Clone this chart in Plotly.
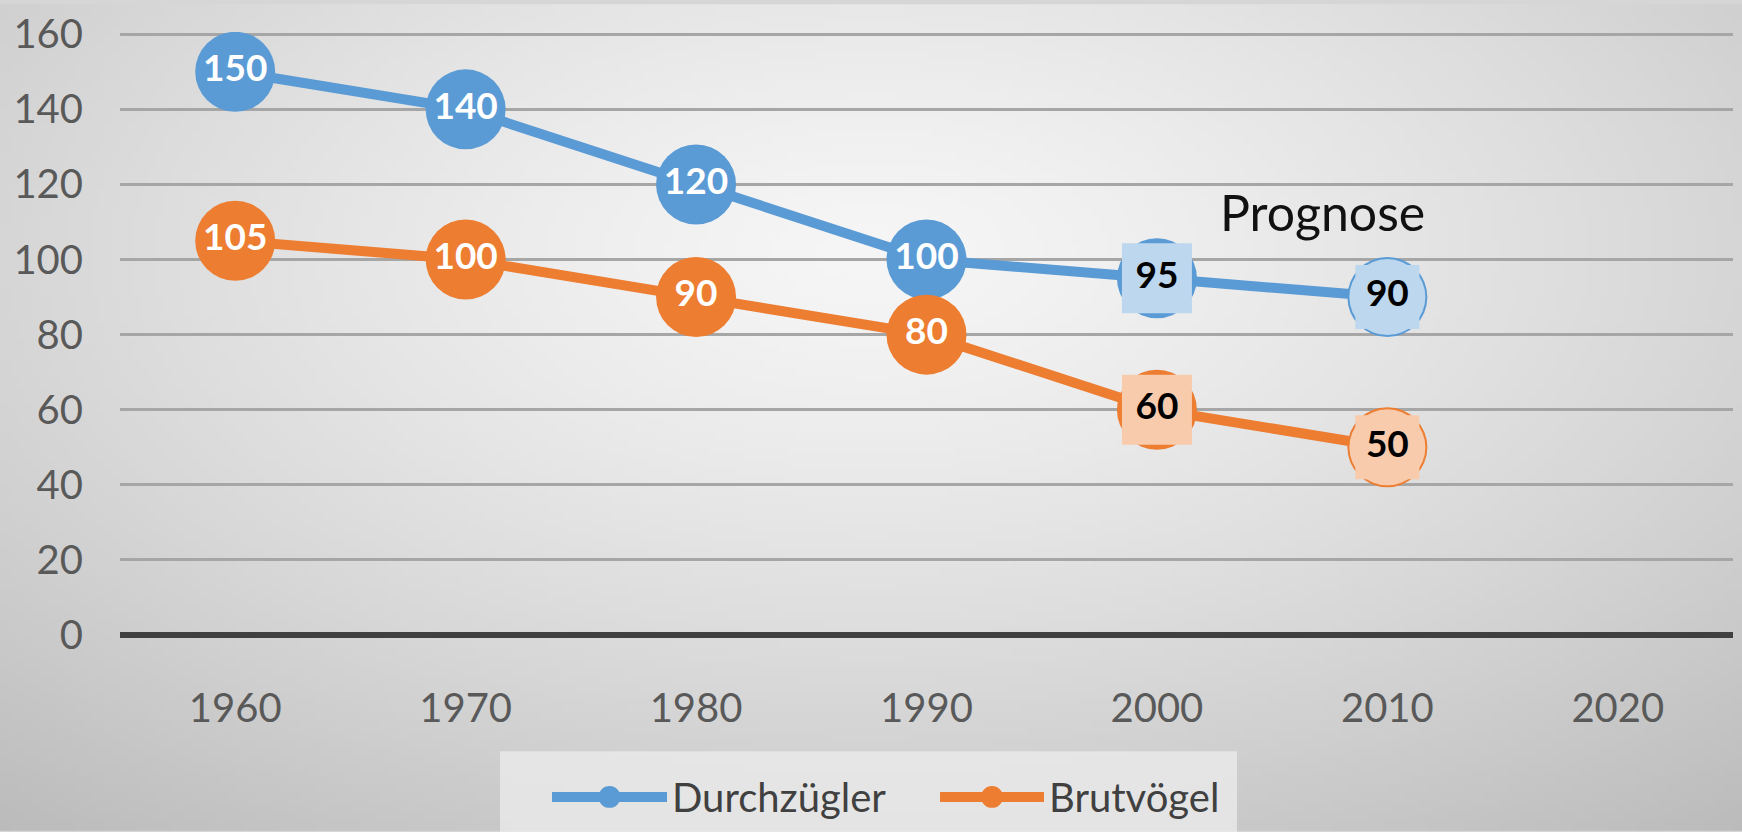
import base64, struct, zlib
import numpy as np
import plotly.graph_objects as go

years = ["1960", "1970", "1980", "1990", "2000", "2010", "2020"]
durchzuegler = [150, 140, 120, 100, 95, 90, None]
brutvoegel = [105, 100, 90, 80, 60, 50, None]
forecast = [False, False, False, False, True, True, False]
y_ticks = [0, 20, 40, 60, 80, 100, 120, 140, 160]
series_names = ["Durchzügler", "Brutvögel"]

BLUE, ORANGE = "#5B9BD5", "#ED7D31"
LBLUE, LORANGE = "#BDD7EE", "#F8CBAD"
W, H = 1742, 832
ML, MR, MT, MB = 120, 9, 28, 197
PW, PH = W - ML - MR, H - MT - MB
FONT = "Lato"
Y_MAX = 160.6


def png_data_uri(arr):
    h, w, _ = arr.shape
    raw = b"".join(b"\x00" + arr[r].astype(np.uint8).tobytes() for r in range(h))
    def chunk(t, d):
        c = struct.pack(">I", len(d)) + t + d
        return c + struct.pack(">I", zlib.crc32(t + d) & 0xFFFFFFFF)
    png = b"\x89PNG\r\n\x1a\n" + chunk(b"IHDR", struct.pack(">IIBBBBB", w, h, 8, 2, 0, 0, 0))
    png += chunk(b"IDAT", zlib.compress(raw, 9)) + chunk(b"IEND", b"")
    return "data:image/png;base64," + base64.b64encode(png).decode()


gw, gh = 240, 115
gx, gy = np.meshgrid(np.linspace(0, 1, gw), np.linspace(0, 1, gh))
d = np.sqrt(((gx - 0.5) / 0.75) ** 2 + ((gy - 0.3) / 0.85) ** 2)
v = np.clip(246 - 54 * d ** 1.3, 0, 255)
bg = np.stack([v, v, v], axis=-1)
bg_uri = png_data_uri(bg)


def px(x):
    return (x - ML) / PW


def py(y):
    return (H - MB - y) / PH


def labels(vals):
    return [("" if v is None else str(v)) for v in vals]


def label_colors(vals):
    return ["black" if f else "white" for f in forecast]


fig = go.Figure()

for name, vals, col, lcol in [(series_names[0], durchzuegler, BLUE, LBLUE),
                              (series_names[1], brutvoegel, ORANGE, LORANGE)]:
    fig.add_trace(go.Scatter(
        x=years, y=vals, mode="lines+markers", name=name,
        line=dict(color=col, width=10),
        marker=dict(color=col, size=80, line=dict(width=0)),
        showlegend=False, hoverinfo="skip"))
    fx = [x for x, f in zip(years, forecast) if f]
    fv = [val for val, f in zip(vals, forecast) if f]
    fig.add_trace(go.Scatter(
        x=fx[:1], y=fv[:1], mode="markers",
        marker=dict(color=lcol, size=70, symbol="square", line=dict(width=0)),
        showlegend=False, hoverinfo="skip"))
    fig.add_trace(go.Scatter(
        x=fx[1:], y=fv[1:], mode="markers",
        marker=dict(color=lcol, size=76, symbol="circle", line=dict(width=0)),
        showlegend=False, hoverinfo="skip"))
    fig.add_trace(go.Scatter(
        x=fx[1:], y=fv[1:], mode="markers",
        marker=dict(color=lcol, size=64, symbol="square", line=dict(width=0)),
        showlegend=False, hoverinfo="skip"))

for vals in [durchzuegler, brutvoegel]:
    fig.add_trace(go.Scatter(
        x=years, y=vals, mode="text", text=labels(vals),
        textposition="middle center",
        textfont=dict(family=FONT, size=37, weight="bold", color=label_colors(vals)),
        showlegend=False, hoverinfo="skip"))

# Manual legend
shapes = [dict(type="rect", xref="paper", yref="paper",
               x0=px(500), x1=px(1237), y0=py(752), y1=py(840),
               fillcolor="rgba(236,236,236,0.75)", line=dict(width=0), layer="below")]
annotations = []
legend_items = [(series_names[0], BLUE, 552, 667, 670), (series_names[1], ORANGE, 940, 1044, 1047)]
ly = 798
for name, col, x0, x1, tx in legend_items:
    shapes.append(dict(type="line", xref="paper", yref="paper",
                       x0=px(x0), x1=px(x1), y0=py(ly), y1=py(ly),
                       line=dict(color=col, width=10)))
    cx = (x0 + x1) / 2
    r = 11
    shapes.append(dict(type="circle", xref="paper", yref="paper",
                       x0=px(cx - r), x1=px(cx + r), y0=py(ly + r), y1=py(ly - r),
                       fillcolor=col, line=dict(width=0)))
    annotations.append(dict(text=name, xref="paper", yref="paper", x=px(tx), y=py(ly),
                            xanchor="left", yanchor="middle", showarrow=False,
                            font=dict(family=FONT, size=40, color="#404040")))

annotations.append(dict(text="Prognose", x=4.72, y=112.7, xref="x", yref="y",
                        showarrow=False, xanchor="center", yanchor="middle",
                        font=dict(family=FONT, size=50, color="#111111")))

fig.update_layout(
    width=W, height=H,
    margin=dict(l=ML, r=MR, t=MT, b=MB, pad=0),
    paper_bgcolor="#d6d6d6", plot_bgcolor="rgba(0,0,0,0)",
    images=[dict(source=bg_uri, xref="paper", yref="paper",
                 x=-ML / PW, y=1 + MT / PH, sizex=W / PW, sizey=H / PH,
                 xanchor="left", yanchor="top", sizing="stretch", layer="below")],
    shapes=shapes, annotations=annotations,
    showlegend=False,
    xaxis=dict(type="category", categoryorder="array", categoryarray=years,
               range=[-0.5, len(years) - 0.5], showgrid=False, showline=False,
               zeroline=False, ticks="", ticklabelstandoff=46,
               tickfont=dict(family=FONT, size=40, color="#595959")),
    yaxis=dict(range=[0, Y_MAX], tickvals=y_ticks, showgrid=True, gridcolor="#a6a6a6",
               gridwidth=3, zeroline=True, zerolinecolor="#404040", zerolinewidth=6,
               showline=False, ticks="", ticklabelstandoff=36,
               tickfont=dict(family=FONT, size=40, color="#595959")),
)

fig.write_html("out.html", config={"displayModeBar": False},
               post_script="document.body.style.margin='0';document.body.style.overflow='hidden';")
